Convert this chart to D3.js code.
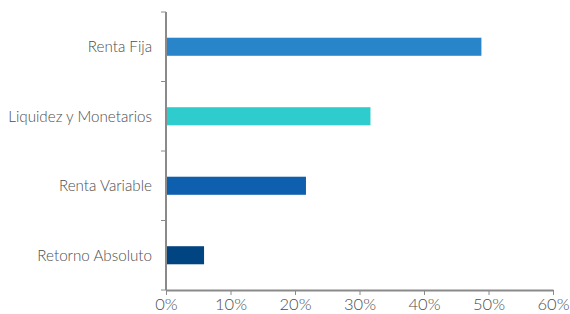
<!DOCTYPE html>
<html>
<head>
<meta charset="utf-8">
<script src="https://cdn.jsdelivr.net/npm/d3@7"></script>
<style>
  body { margin: 0; background: #fff; }
  svg text { font-family: Lato, "Open Sans", sans-serif; font-weight: 300; fill: #4d4d4d; }
</style>
</head>
<body>
<svg id="chart" width="570" height="314"></svg>
<script>
// ---------- Data ----------
const categories = ['Renta Fija', 'Liquidez y Monetarios', 'Renta Variable', 'Retorno Absoluto'];
const values = [48.9, 31.7, 21.7, 5.9];
const barColors = ['#2985CA', '#2ECCCD', '#0F5FAF', '#004481'];
const xTicks = [0, 10, 20, 30, 40, 50, 60];

const svg = d3.select('#chart');
const margin = { top: 12, right: 17, bottom: 24, left: 166 };
const width = 570 - margin.left - margin.right;
const height = 314 - margin.top - margin.bottom;

const g = svg.append('g').attr('transform', `translate(${margin.left},${margin.top})`);

// ---------- Scales ----------
const x = d3.scaleLinear().domain([0, 60]).range([0, width]);
const y = d3.scaleBand().domain(categories).range([0, height]).paddingInner(0.74).paddingOuter(0.37);

// ---------- Bars ----------
g.append('g').selectAll('rect')
  .data(categories)
  .join('rect')
  .attr('x', 0)
  .attr('y', d => y(d))
  .attr('width', (d, i) => x(values[i]))
  .attr('height', y.bandwidth())
  .attr('fill', (d, i) => barColors[i]);

// ---------- Y axis (ticks at band boundaries) ----------
const step = height / categories.length;
const yAxis = g.append('g');
yAxis.append('line')
  .attr('x1', 0).attr('x2', 0).attr('y1', 0).attr('y2', height)
  .attr('stroke', '#8a8a8a').attr('stroke-width', 2);
yAxis.selectAll('line.tick')
  .data(d3.range(categories.length + 1))
  .join('line')
  .attr('class', 'tick')
  .attr('x1', -5).attr('x2', 0)
  .attr('y1', d => d * step).attr('y2', d => d * step)
  .attr('stroke', '#8a8a8a').attr('stroke-width', 1);
yAxis.selectAll('text')
  .data(categories)
  .join('text')
  .attr('x', -14)
  .attr('y', d => y(d) + y.bandwidth() / 2)
  .attr('dy', '0.35em')
  .attr('text-anchor', 'end')
  .attr('font-size', 15.2)
  .text(d => d);

// ---------- X axis ----------
const xAxis = g.append('g').attr('transform', `translate(0,${height})`)
  .call(d3.axisBottom(x).tickValues(xTicks).tickFormat(d => d + '%').tickSize(5).tickSizeOuter(0));
xAxis.select('.domain').attr('stroke', '#8a8a8a').attr('stroke-width', 2);
xAxis.selectAll('.tick line').attr('stroke', '#8a8a8a');
xAxis.selectAll('.tick text')
  .attr('font-size', 16.5)
  .attr('font-family', null)
  .attr('fill', null)
  .attr('dy', '0.75em')
  .attr('y', 8);
</script>
</body>
</html>
